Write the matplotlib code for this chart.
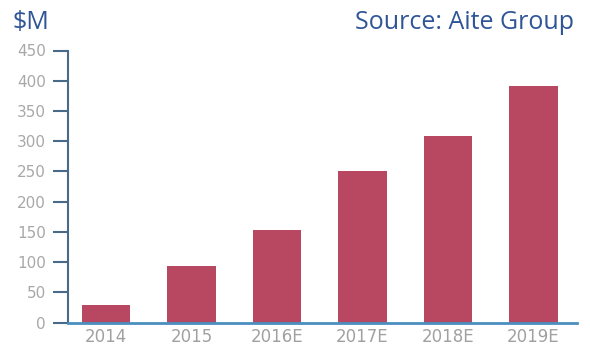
import matplotlib
matplotlib.use("Agg")
import matplotlib.pyplot as plt

categories = ["2014", "2015", "2016E", "2017E", "2018E", "2019E"]
values = [30, 93, 153, 250, 308, 392]
yticks = [0, 50, 100, 150, 200, 250, 300, 350, 400, 450]

fig = plt.figure(figsize=(5.9, 3.56), dpi=100)
ax = fig.add_axes([68/590, 1-322.7/356, (577-68)/590, (322.7-50.5)/356])

x = list(range(len(categories)))
ax.bar(x, values, width=0.57, color="#B84862", zorder=2)
ax.set_xlim(-0.445, 5.51)
ax.set_ylim(0, 450)
ax.set_yticks(yticks)
ax.set_yticklabels([str(v) for v in yticks])
ax.set_xticks(x)
ax.set_xticklabels(categories)

for s in ["top", "right"]:
    ax.spines[s].set_visible(False)
ax.spines["left"].set_color("#4a6a8a")
ax.spines["left"].set_linewidth(1.5)
ax.spines["bottom"].set_color("#4a8fc0")
ax.spines["bottom"].set_linewidth(2)
ax.tick_params(axis="y", direction="out", length=11, width=1.5, color="#4a6a8a",
               labelsize=11, labelcolor="#a8a8a8", pad=5)
ax.tick_params(axis="x", length=0, labelsize=12, labelcolor="#a0a0a0", pad=4)

fig.text(13/590, 1-29/356, "$M", fontsize=18, color="#2F5597",
         family="Open Sans", va="baseline", ha="left")
fig.text(574/590, 1-29/356, "Source: Aite Group", fontsize=18, color="#2F5597",
         family="Open Sans", va="baseline", ha="right")

fig.savefig("out.png", dpi=100)
